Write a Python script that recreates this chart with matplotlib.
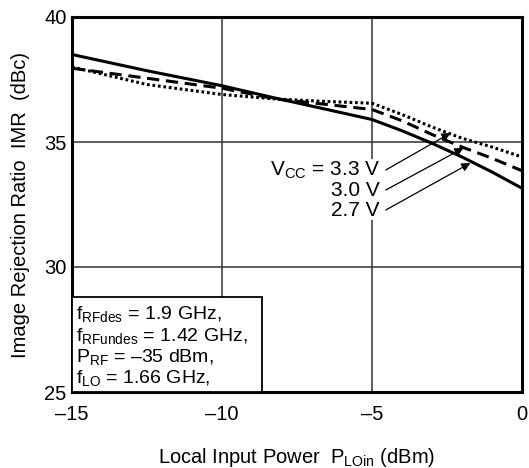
import numpy as np
import matplotlib.pyplot as plt

plt.rcParams['font.family'] = ['Liberation Sans', 'DejaVu Sans']
plt.rcParams['mathtext.fontset'] = 'custom'
plt.rcParams['mathtext.rm'] = 'Liberation Sans'

# local input power (dBm)
p_lo = [-15, -12.5, -10, -8.2, -6.5, -5, -4, -3, -2, -1, 0]
# IMR (dBc) for each supply voltage
imr_27 = [38.5, 37.85, 37.25, 36.75, 36.3, 35.9, 35.45, 34.95, 34.4, 33.8, 33.15]
imr_30 = [37.95, 37.55, 37.15, 36.72, 36.5, 36.3, 35.85, 35.3, 34.8, 34.35, 33.85]
imr_33 = [38.0, 37.3, 36.9, 36.72, 36.62, 36.55, 36.1, 35.6, 35.15, 34.8, 34.4]

labels = ["V$_{\\mathregular{CC}}$ = 3.3 V", "3.0 V", "2.7 V"]
cond_lines = ["f$_{\\mathregular{RFdes}}$ = 1.9 GHz,",
              "f$_{\\mathregular{RFundes}}$ = 1.42 GHz,",
              "P$_{\\mathregular{RF}}$ = \u201335 dBm,",
              "f$_{\\mathregular{LO}}$ = 1.66 GHz,"]

fig = plt.figure(figsize=(5.29, 4.68), dpi=100)
ax = fig.add_axes([72 / 529, 1 - 392 / 468, 450 / 529, 375 / 468])

ax.plot(p_lo, imr_27, color="black", lw=2.2, ls="-")
ax.plot(p_lo, imr_30, color="black", lw=2.2, ls=(0, (4, 2.2)))
ax.plot(p_lo, imr_33, color="black", lw=2.2, ls=(0, (0.9, 0.9)))

ax.set_xlim(-15, 0)
ax.set_ylim(25, 40)
ax.set_xticks([-15, -10, -5, 0])
ax.set_xticklabels(["\u201315", "\u201310", "\u20135", "0"])
ax.set_yticks([25, 30, 35, 40])
ax.tick_params(length=0, labelsize=14.5)
ax.tick_params(axis="x", pad=9)
ax.tick_params(axis="y", pad=4)
ax.grid(True, color="#333333", lw=1.1)
for sp in ax.spines.values():
    sp.set_linewidth(2.2)

ax.set_xlabel("Local Input Power  P$_{\\mathregular{LOin}}$ (dBm)", fontsize=14.5, labelpad=16)
ax.set_ylabel("Image Rejection Ratio  IMR  (dBc)", fontsize=14.5, labelpad=10)

# voltage labels with arrows
text_y = [33.88, 33.08, 32.28]
heads = [(-2.38, 35.36), (-1.95, 34.76), (-1.72, 34.16)]
for lab, ty, hd in zip(labels, text_y, heads):
    ax.text(-4.74, ty, lab, ha="right", va="center", fontsize=15,
            bbox=dict(facecolor="white", edgecolor="none", pad=0.3))
    ax.annotate("", xy=hd, xytext=(-4.54, ty),
                arrowprops=dict(arrowstyle="-|>", color="black", lw=0.9,
                                mutation_scale=13, shrinkA=0, shrinkB=0))

# conditions box
box = plt.Rectangle((-15, 25), 6.32, 3.8, facecolor="white", edgecolor="black",
                    lw=1.3, zorder=3)
ax.add_patch(box)
cond_y = [28.08, 27.2, 26.36, 25.52]
for line, cy in zip(cond_lines, cond_y):
    ax.text(-14.85, cy, line, fontsize=14, va="center", ha="left", zorder=4)

fig.savefig("out.png", dpi=100)
